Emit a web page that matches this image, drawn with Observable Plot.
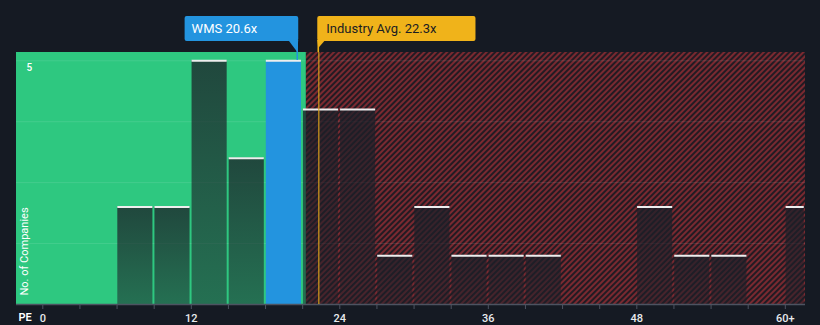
<!DOCTYPE html>
<html>
<head>
<meta charset="utf-8">
<script src="https://cdn.jsdelivr.net/npm/d3@7"></script>
<script src="https://cdn.jsdelivr.net/npm/@observablehq/plot@0.6"></script>
<style>
  html, body { margin: 0; padding: 0; background: #151a23; }
  svg { display: block; }
</style>
</head>
<body>
<script>
// ---- data ----
const binStarts = [6, 9, 12, 15, 18, 21, 24, 27, 30, 33, 36, 39, 48, 51, 54, 60];
const binCounts = [2, 2, 5, 3, 5, 4, 4, 1, 2, 1, 1, 1, 2, 1, 1, 2];
const binWidth = 3;
const companyName = "WMS";
const companyPE = 20.6;
const industryAvg = 22.3;
const fairBoundary = 21.3;
const xDomain = [-2.125, 61.63];
const yDomain = [0, 5.17];
const yGridValues = [1.25, 2.5, 3.75, 5];
const yLabelValues = [5];
const xTickValues = d3.range(0, 61, 3);
const xLabelValues = [0, 12, 24, 36, 48, 60];
const xLabelTexts = ["0", "12", "24", "36", "48", "60+"];
const yAxisTitle = "No. of Companies";
const xAxisTitle = "PE";

const bins = binStarts.map((s, i) => ({
  x1: s, x2: s + binWidth, count: binCounts[i],
  company: companyPE >= s && companyPE < s + binWidth
}));
const peers = bins.filter(d => !d.company);
const own = bins.filter(d => d.company);
const greenZone = [{x1: xDomain[0], x2: fairBoundary}];
const redZone = [{x1: fairBoundary, x2: xDomain[1]}];

const font = "Roboto, 'Open Sans', sans-serif";

const chart = Plot.plot({
  width: 820,
  height: 325,
  marginLeft: 16,
  marginRight: 15,
  marginTop: 52,
  marginBottom: 21,
  style: {background: "transparent", color: "#4d5361", fontFamily: font, fontSize: "11px"},
  x: {
    domain: xDomain, clamp: true, label: null,
    ticks: xTickValues, tickSize: 5, tickPadding: 5,
    tickFormat: d => { const k = xLabelValues.indexOf(d); return k >= 0 ? xLabelTexts[k] : ""; }
  },
  y: {domain: yDomain, axis: null},
  marks: [
    Plot.rect(greenZone, {x1: "x1", x2: "x2", y1: yDomain[0], y2: yDomain[1], fill: "#2ec880"}),
    Plot.rect(redZone, {x1: "x1", x2: "x2", y1: yDomain[0], y2: yDomain[1], fill: "url(#hatch)"}),
    Plot.ruleY(yGridValues, {y: d => d, stroke: "#ffffff", strokeOpacity: 0.1, strokeWidth: 1}),
    Plot.rectY(peers, {x1: "x1", x2: "x2", y: "count", fill: "url(#barGrad)", insetLeft: 0.75, insetRight: 1.25}),
    Plot.rectY(own, {x1: "x1", x2: "x2", y: "count", fill: "#2394df", insetLeft: 0.75, insetRight: 1.25}),
    Plot.ruleY(bins, {y: "count", x1: "x1", x2: "x2", stroke: "#eeeeee", strokeWidth: 2, insetLeft: 0.75, insetRight: 1.25}),
    Plot.ruleY([0], {stroke: "#4d5361", strokeWidth: 1.5}),
    Plot.ruleX([industryAvg], {x: d => d, stroke: "#d9a01c", strokeOpacity: 0.75, strokeWidth: 1.6}),
    Plot.text(yLabelValues, {y: d => d, text: d => String(d), frameAnchor: "left", dx: 10, dy: 7.5, textAnchor: "start", fill: "#ffffff", fontSize: 10, fontWeight: 500}),
    Plot.text([yAxisTitle], {text: d => d, frameAnchor: "bottom-left", rotate: -90, textAnchor: "start", dx: 11.5, dy: -9, fill: "#ffffff", fontSize: 11}),
    Plot.text([xAxisTitle], {text: d => d, frameAnchor: "bottom-left", textAnchor: "start", dx: 2, dy: 16, fill: "#ffffff", fontSize: 11, fontWeight: 600})
  ]
});

document.body.append(chart);
const root = d3.select(chart);
root.insert("defs", ":first-child").html(`
  <pattern id="hatch" patternUnits="userSpaceOnUse" width="4" height="4" patternTransform="rotate(45)">
    <rect width="4" height="4" fill="#221b23"></rect>
    <rect width="2" height="4" fill="#7a2930"></rect>
  </pattern>
  <linearGradient id="barGrad" x1="0" y1="0" x2="0" y2="1">
    <stop offset="0" stop-color="#1c1f28" stop-opacity="0.76"></stop>
    <stop offset="1" stop-color="#1c1f28" stop-opacity="0.52"></stop>
  </linearGradient>`);

// tick label colors
root.selectAll('g[aria-label^="x-axis"] text').attr("fill", "#e8eaed").attr("font-weight", 500);

// callouts using the plot's scales
const xs = chart.scale("x");
const X = v => xs.apply(v);
const frameTop = 52;
function callout(value, label, bg, fg, side) {
  const xv = X(value);
  const g = root.append("g").attr("text-anchor", "start");
  const t = g.append("text").text(label)
    .attr("font-family", font).attr("font-size", 13).attr("fill", fg)
    .attr("text-anchor", "start").attr("y", 33);
  const w = t.node().getComputedTextLength();
  const boxW = w + 48;
  let bx;
  if (side === "left") {
    bx = xv + 1 - boxW;
    t.attr("x", bx + 7);
    g.insert("polygon", "text").attr("points", `${xv - 9},40 ${xv + 1},40 ${xv},${frameTop}`).attr("fill", bg);
    g.insert("line", "text").attr("x1", xv).attr("x2", xv).attr("y1", 40).attr("y2", frameTop + 8).attr("stroke", bg).attr("stroke-width", 1.5);
  } else {
    bx = xv - 1;
    t.attr("x", bx + 9);
    g.insert("polygon", "text").attr("points", `${xv - 1},40 ${xv + 7},40 ${xv},${frameTop - 4}`).attr("fill", bg);
    g.insert("line", "text").attr("x1", xv).attr("x2", xv).attr("y1", 40).attr("y2", frameTop).attr("stroke", bg).attr("stroke-width", 1.6);
  }
  g.insert("rect", "text").attr("x", bx).attr("y", 16).attr("width", boxW).attr("height", 25).attr("rx", 2).attr("fill", bg);
}
callout(companyPE, `${companyName} ${companyPE}x`, "#2394df", "#ffffff", "left");
callout(industryAvg, `Industry Avg. ${industryAvg}x`, "#f0b31a", "#1b1d22", "right");
</script>
</body>
</html>
